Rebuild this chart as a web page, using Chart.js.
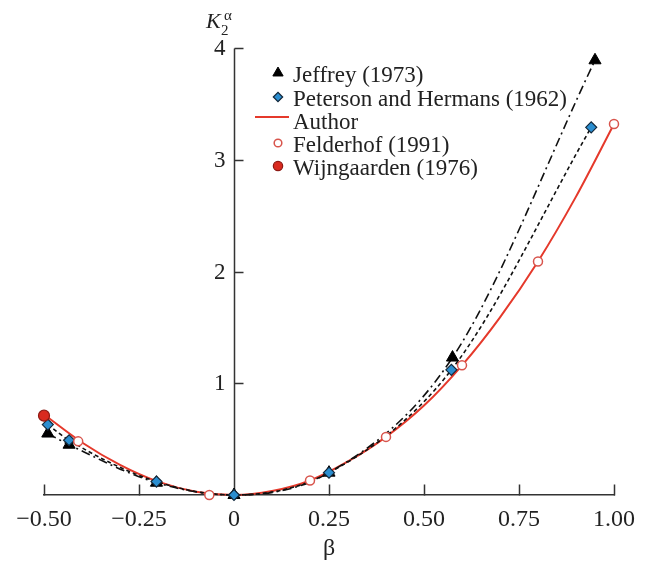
<!DOCTYPE html>
<html>
<head>
<meta charset="utf-8">
<script src="https://cdn.jsdelivr.net/npm/chart.js@4.4.0/dist/chart.umd.min.js"></script>
<style>
  html, body { margin: 0; padding: 0; background: #fff; }
  #chart { display: block; }
</style>
</head>
<body>
<canvas id="chart" width="652" height="564"></canvas>
<script>
// Jeffrey (1973)
const jeffreyBeta = [-0.49, -0.434, -0.204, 0, 0.25, 0.575, 0.95];
const jeffreyK    = [0.55, 0.45, 0.11, 0, 0.2, 1.23, 3.89];

// Peterson and Hermans (1962)
const petersonBeta = [-0.49, -0.434, -0.204, 0, 0.25, 0.572, 0.94];
const petersonK    = [0.63, 0.49, 0.12, 0, 0.2, 1.12, 3.29];

// Author curve
const authorBeta = [-0.5, -0.4, -0.3, -0.2, -0.1, 0, 0.1, 0.2, 0.3, 0.4, 0.5, 0.6, 0.7, 0.8, 0.9, 1.0];
const authorK    = [0.72, 0.47, 0.27, 0.12, 0.03, 0, 0.035, 0.13, 0.30, 0.52, 0.80, 1.16, 1.59, 2.09, 2.67, 3.32];

// Felderhof (1991)
const felderhofBeta = [-0.41, -0.065, 0.2, 0.4, 0.6, 0.8, 1.0];
const felderhofK    = [0.48, 0, 0.13, 0.52, 1.16, 2.09, 3.32];

// Wijngaarden (1976)
const wijngaardenBeta = [-0.5];
const wijngaardenK    = [0.71];

const xTicks = [-0.5, -0.25, 0, 0.25, 0.5, 0.75, 1.0];
const yTicks = [1, 2, 3, 4];

const pts = (xs, ys) => xs.map((x, i) => ({ x, y: ys[i] }));
const serif = '"Liberation Serif", "DejaVu Serif", serif';
const ink = '#222';

const datasets = [
  {
    label: 'Jeffrey (1973)',
    data: pts(jeffreyBeta, jeffreyK),
    showLine: true,
    borderColor: '#111',
    borderWidth: 1.6,
    borderDash: [9, 4, 2, 4],
    cubicInterpolationMode: 'monotone',
    pointStyle: 'triangle',
    pointRadius: 7,
    pointBackgroundColor: '#000',
    pointBorderColor: '#000',
    pointBorderWidth: 1,
    clip: false,
    order: 3
  },
  {
    label: 'Peterson and Hermans (1962)',
    data: pts(petersonBeta, petersonK),
    showLine: true,
    borderColor: '#111',
    borderWidth: 1.6,
    borderDash: [4, 3],
    cubicInterpolationMode: 'monotone',
    pointStyle: 'rectRot',
    pointRadius: 5.5,
    pointBackgroundColor: '#2b8ed0',
    pointBorderColor: '#14283a',
    pointBorderWidth: 1.2,
    clip: false,
    order: 2
  },
  {
    label: 'Author',
    data: pts(authorBeta, authorK),
    showLine: true,
    borderColor: '#e5392b',
    borderWidth: 2,
    cubicInterpolationMode: 'monotone',
    pointRadius: 0,
    clip: false,
    order: 4
  },
  {
    label: 'Felderhof (1991)',
    data: pts(felderhofBeta, felderhofK),
    showLine: false,
    pointStyle: 'circle',
    pointRadius: 4.5,
    pointBackgroundColor: '#fff',
    pointBorderColor: '#d8544c',
    pointBorderWidth: 1.5,
    clip: false,
    order: 1
  },
  {
    label: 'Wijngaarden (1976)',
    data: pts(wijngaardenBeta, wijngaardenK),
    showLine: false,
    pointStyle: 'circle',
    pointRadius: 5.5,
    pointBackgroundColor: '#d92a1f',
    pointBorderColor: '#8e1a14',
    pointBorderWidth: 1.2,
    clip: false,
    order: 0
  }
];

// y axis sits at beta = 0; ticks point inward; legend and K label drawn on top
const decor = {
  id: 'decor',
  beforeDatasetsDraw(chart) {
    const { ctx, scales: { x, y } } = chart;
    const x0 = Math.round(x.getPixelForValue(0)) + 0.5;
    const y0 = Math.round(y.getPixelForValue(0)) + 0.5;
    const yTop = Math.round(y.getPixelForValue(4)) + 0.5;
    ctx.save();
    ctx.strokeStyle = '#333';
    ctx.lineWidth = 1.5;
    ctx.beginPath();
    ctx.moveTo(x0, y0);
    ctx.lineTo(x0, yTop);
    xTicks.forEach(v => {
      if (v === 0) return;
      const px = Math.round(x.getPixelForValue(v)) + 0.5;
      ctx.moveTo(px, y0);
      ctx.lineTo(px, y0 - 11);
    });
    yTicks.forEach(v => {
      const py = Math.round(y.getPixelForValue(v)) + 0.5;
      ctx.moveTo(x0, py);
      ctx.lineTo(x0 + 9, py);
    });
    ctx.stroke();

    ctx.fillStyle = ink;
    ctx.font = '23px ' + serif;
    ctx.textAlign = 'right';
    ctx.textBaseline = 'middle';
    yTicks.forEach(v => {
      ctx.fillText(String(v), x0 - 9, y.getPixelForValue(v) + 1);
    });
    ctx.restore();
  },
  afterDraw(chart) {
    const { ctx } = chart;
    ctx.save();
    ctx.fillStyle = ink;
    ctx.textBaseline = 'alphabetic';
    ctx.textAlign = 'left';
    ctx.font = 'italic 22px ' + serif;
    ctx.fillText('K', 206, 28);
    ctx.font = '15px ' + serif;
    ctx.fillText('2', 221, 35);
    ctx.fillText('α', 224, 20);

    // legend
    const lx = 278, tx = 293;
    const rows = [75, 99, 122, 145, 168];
    ctx.font = '23px ' + serif;
    ctx.textBaseline = 'middle';
    chart.data.datasets.forEach((ds, i) => {
      const cy = rows[i];
      if (ds.pointRadius > 0) {
        ctx.fillStyle = ds.pointBackgroundColor;
        ctx.strokeStyle = ds.pointBorderColor;
        ctx.lineWidth = ds.pointBorderWidth;
        Chart.helpers.drawPoint(ctx, {
          pointStyle: ds.pointStyle,
          radius: ds.pointRadius * 0.85,
          borderWidth: ds.pointBorderWidth,
          rotation: 0
        }, lx, cy - 2);
      } else {
        ctx.strokeStyle = ds.borderColor;
        ctx.lineWidth = ds.borderWidth;
        ctx.beginPath();
        ctx.moveTo(255, cy - 5);
        ctx.lineTo(289, cy - 5);
        ctx.stroke();
      }
      ctx.fillStyle = ink;
      ctx.fillText(ds.label, tx, cy + 1);
    });
    ctx.restore();
  }
};

new Chart(document.getElementById('chart'), {
  type: 'scatter',
  data: { datasets },
  options: {
    responsive: false,
    animation: false,
    layout: { padding: { left: 44, right: 38, top: 48, bottom: 0 } },
    plugins: { legend: { display: false }, tooltip: { enabled: false } },
    scales: {
      x: {
        type: 'linear',
        min: -0.5,
        max: 1.0,
        afterBuildTicks: s => { s.ticks = xTicks.map(v => ({ value: v })); },
        afterFit: s => { s.height = 69; },
        grid: { display: false, drawTicks: false },
        border: { display: true, color: '#333', width: 1.5 },
        ticks: {
          padding: 10,
          color: ink,
          font: { family: serif, size: 24 },
          maxRotation: 0,
          autoSkip: false,
          callback: v => v === 0 ? '0' : (v < 0 ? '\u2212' : '') + Math.abs(v).toFixed(2)
        },
        title: {
          display: true,
          text: 'β',
          color: ink,
          font: { family: serif, size: 24 },
          padding: { top: 0, bottom: 1 }
        }
      },
      y: {
        type: 'linear',
        display: false,
        min: 0,
        max: 4
      }
    }
  },
  plugins: [decor]
});
</script>
</body>
</html>
